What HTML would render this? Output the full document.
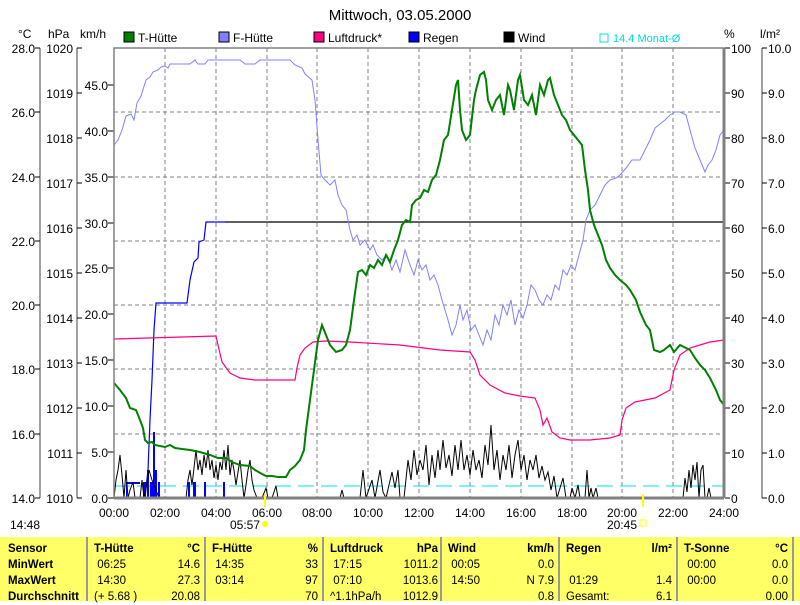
<!DOCTYPE html>
<html><head><meta charset="utf-8"><style>
body{margin:0;background:#fff;width:800px;height:601px;overflow:hidden;font-family:"Liberation Sans",sans-serif}
svg{display:block}
text{font-family:"Liberation Sans",sans-serif;font-size:12px;fill:#000}
.tb{position:absolute;left:0;top:537px;width:800px;height:64px;background:#ffff66;font-size:11.5px}
.c{position:absolute;top:0;height:64px;border-left:2px solid #999}
.r{position:absolute;white-space:nowrap}
b{font-weight:bold}
</style></head><body>
<svg width="800" height="537" viewBox="0 0 800 537">
<text x="400" y="20" text-anchor="middle" style="font-size:15px">Mittwoch, 03.05.2000</text>
<text x="18" y="38">°C</text><text x="48" y="38">hPa</text><text x="80" y="38">km/h</text>
<text x="724" y="38">%</text><text x="760" y="38">l/m²</text>
<rect x="124" y="32" width="10" height="10" fill="#008000" stroke="#000"/><text x="138" y="42">T-Hütte</text>
<rect x="219" y="32" width="10" height="10" fill="#8080ff" stroke="#000"/><text x="233" y="42">F-Hütte</text>
<rect x="314" y="32" width="10" height="10" fill="#ff0080" stroke="#000"/><text x="328" y="42">Luftdruck*</text>
<rect x="409" y="32" width="10" height="10" fill="#0000ff" stroke="#000"/><text x="423" y="42">Regen</text>
<rect x="504" y="32" width="10" height="10" fill="#000" stroke="#000"/><text x="518" y="42">Wind</text>
<rect x="600" y="34" width="8" height="8" fill="none" stroke="#00e0e0"/><text x="613" y="42" style="fill:#00d8d8;font-size:11px">14.4 Monat-Ø</text>
<!-- left axes -->
<g stroke="#808080" stroke-width="1.5" fill="none">
<line x1="40" y1="48" x2="40" y2="498"/><line x1="77" y1="48" x2="77" y2="498"/>
<line x1="762" y1="48" x2="762" y2="498"/>
</g>
<g stroke="#000" stroke-width="1">
<path d="M35 48h5M35 112h5M35 177h5M35 241h5M35 305h5M35 369h5M35 434h5M35 498h5"/>
<path d="M77 48h5M77 93h5M77 138h5M77 183h5M77 228h5M77 273h5M77 318h5M77 363h5M77 408h5M77 453h5M77 498h5"/>
<path d="M108 85h6M108 131h6M108 177h6M108 223h6M108 268h6M108 314h6M108 360h6M108 406h6M108 452h6M108 498h6"/>
<path d="M725 48h5M725 93h5M725 138h5M725 183h5M725 228h5M725 273h5M725 318h5M725 363h5M725 408h5M725 453h5M725 498h5"/>
<path d="M762 48h5M762 93h5M762 138h5M762 183h5M762 228h5M762 273h5M762 318h5M762 363h5M762 408h5M762 453h5M762 498h5"/>
</g>
<g text-anchor="end">
<text x="35" y="53">28.0</text><text x="35" y="117">26.0</text><text x="35" y="182">24.0</text><text x="35" y="246">22.0</text><text x="35" y="310">20.0</text><text x="35" y="374">18.0</text><text x="35" y="439">16.0</text><text x="35" y="503">14.0</text>
<text x="73" y="53">1020</text><text x="73" y="98">1019</text><text x="73" y="143">1018</text><text x="73" y="188">1017</text><text x="73" y="233">1016</text><text x="73" y="278">1015</text><text x="73" y="323">1014</text><text x="73" y="368">1013</text><text x="73" y="413">1012</text><text x="73" y="458">1011</text><text x="73" y="503">1010</text>
<text x="108" y="90">45.0</text><text x="108" y="136">40.0</text><text x="108" y="182">35.0</text><text x="108" y="228">30.0</text><text x="108" y="273">25.0</text><text x="108" y="319">20.0</text><text x="108" y="365">15.0</text><text x="108" y="411">10.0</text><text x="108" y="457">5.0</text><text x="108" y="503">0.0</text>
</g>
<g>
<text x="731" y="53">100</text><text x="731" y="98">90</text><text x="731" y="143">80</text><text x="731" y="188">70</text><text x="731" y="233">60</text><text x="731" y="278">50</text><text x="731" y="323">40</text><text x="731" y="368">30</text><text x="731" y="413">20</text><text x="731" y="458">10</text><text x="731" y="503">0</text>
<text x="768" y="53">10.0</text><text x="768" y="98">9.0</text><text x="768" y="143">8.0</text><text x="768" y="188">7.0</text><text x="768" y="233">6.0</text><text x="768" y="278">5.0</text><text x="768" y="323">4.0</text><text x="768" y="368">3.0</text><text x="768" y="413">2.0</text><text x="768" y="458">1.0</text><text x="768" y="503">0.0</text>
</g>
<!-- grid -->
<g stroke="#808080" stroke-dasharray="4,3" stroke-width="1">
<path d="M114 112H724M114 177H724M114 241H724M114 305H724M114 369H724M114 434H724"/>
<path d="M165 48V498M216 48V498M267 48V498M317 48V498M368 48V498M419 48V498M470 48V498M521 48V498M572 48V498M622 48V498M673 48V498"/>
</g>
<line x1="114" y1="486" x2="724" y2="486" stroke="#00e0e0" stroke-dasharray="16,7"/>
<!-- rain bars -->
<g fill="#0000ff">
<rect x="126" y="482" width="14" height="2"/><rect x="126" y="482" width="1" height="16"/>
<rect x="143" y="482" width="3" height="16"/><rect x="147" y="470" width="2" height="28"/><rect x="150" y="482" width="3" height="16"/><rect x="153" y="432" width="2" height="66"/><rect x="155" y="470" width="2" height="28"/><rect x="158" y="482" width="2" height="16"/>
<rect x="188" y="482" width="2" height="16"/><rect x="193" y="482" width="3" height="16"/><rect x="204" y="482" width="2" height="16"/><rect x="223" y="482" width="2" height="16"/>
</g>
<!-- rain cumulative -->
<polyline fill="none" stroke="#0000ff" stroke-width="1.2" points="114,498 145,498 148,470 150,420 152,380 154,330 156,303 187,303 190,280 194,262 198,258 199,242 204,240 206,222 225,222"/>
<line x1="225" y1="222" x2="724" y2="222" stroke="#000" stroke-width="1.2"/>
<!-- wind -->
<polyline fill="none" stroke="#000" stroke-width="1" points="114,498 116,480 118,470 120,455 122,475 124,498 126,470 128,498 130,490 133,482 135,498 140,498 142,480 144,498 146,488 149,470 152,480 156,490 159,498 186,498 188,480 190,470 192,485 194,468 196,450 198,470 200,460 202,475 204,455 206,468 208,450 210,470 212,460 214,478 216,465 218,480 220,462 222,470 224,450 226,470 228,445 230,475 232,460 234,470 236,485 238,472 240,460 242,480 244,498 246,485 248,470 250,460 252,480 254,490 257,498 262,498 266,488 268,498 272,498 276,486 278,498 340,498 342,490 344,498 360,498 363,470 366,498 372,480 375,498 380,470 383,492 386,498 392,472 395,488 398,470 400,498 404,498 408,460 411,480 414,450 417,475 420,460 423,470 426,445 429,485 432,455 435,478 438,450 440,470 443,440 446,468 449,455 452,476 455,445 458,470 461,440 464,470 467,455 470,475 473,450 476,470 479,460 482,478 485,445 488,465 491,425 494,470 497,450 500,480 503,455 506,470 509,445 512,478 515,455 518,440 521,470 524,455 527,480 530,460 533,470 536,455 539,478 542,466 545,480 548,472 551,490 554,476 557,498 560,488 563,478 566,498 570,498 572,488 575,498 578,485 580,498 585,498 587,470 589,498 591,488 593,498 596,488 598,498 683,498 685,478 687,492 689,470 691,488 693,465 695,480 697,462 699,498 701,470 703,465 705,498 707,498 709,488 711,498"/>
<!-- Luftdruck -->
<polyline fill="none" stroke="#ff0080" stroke-width="1.2" points="114,339 216,336 218,345 222,362 230,373 240,378 255,380 295,380 297,368 300,355 305,348 313,342 325,341 350,342 400,345 440,350 470,352 475,360 480,375 490,385 505,393 520,396 535,398 540,410 543,425 547,418 552,432 560,438 570,440 590,440 610,438 620,435 622,420 626,408 635,402 645,400 655,398 670,390 674,370 680,355 690,348 700,345 710,342 724,340"/>
<!-- F-Huette -->
<polyline fill="none" stroke="#8080ff" stroke-width="1" points="114,145 118,140 122,130 126,116 131,114 134,120 137,103 141,96 146,80 150,77 153,72 158,70 161,67 165,66 168,68 170,64 180,64 190,64 195,60 198,64 205,64 208,60 230,60 240,60 245,64 255,64 260,60 290,60 295,65 302,68 305,74 312,80 315,100 318,140 321,175 325,180 330,185 335,180 338,195 342,205 346,210 350,230 353,240 357,235 360,245 365,240 370,250 373,245 377,255 382,260 387,255 392,270 396,260 400,272 405,250 410,265 414,275 418,260 422,270 426,265 430,280 434,275 438,285 442,300 445,310 448,320 452,335 456,325 460,305 463,320 467,310 471,330 475,325 479,335 483,345 487,330 491,340 495,315 499,325 503,305 507,315 511,300 515,325 519,310 523,318 527,305 531,285 535,290 539,300 543,305 547,295 551,300 555,285 559,290 563,270 567,275 571,265 575,270 579,255 583,240 586,220 590,210 595,205 600,195 605,185 610,180 616,178 620,175 626,168 632,160 640,160 645,150 650,140 655,128 660,124 665,120 670,115 675,112 680,112 686,115 690,130 695,148 700,160 705,172 708,165 712,160 716,150 720,135 724,130"/>
<!-- T-Huette -->
<polyline fill="none" stroke="#008000" stroke-width="2" points="114,383 120,390 126,398 130,408 136,410 140,420 143,428 145,440 148,443 152,442 155,445 160,446 165,447 170,445 175,448 182,449 190,450 200,452 210,455 218,458 226,458 232,462 240,465 250,466 255,470 262,474 266,476 272,476 278,477 286,477 290,470 295,466 300,460 304,450 306,430 310,400 314,370 318,340 322,325 326,335 330,345 336,352 342,350 346,345 350,330 354,300 358,272 362,270 366,275 370,265 374,268 378,260 382,265 386,255 390,262 394,250 398,240 402,225 406,220 410,222 412,205 416,200 420,198 424,190 428,192 432,180 436,175 440,160 444,140 448,135 452,110 456,85 458,80 460,110 462,130 466,140 470,135 474,100 476,90 480,75 484,72 486,80 488,100 492,110 496,100 500,95 504,115 508,85 510,90 514,110 518,80 520,75 524,100 528,105 532,95 536,115 540,85 544,95 548,80 550,78 554,95 558,105 562,115 566,120 570,130 574,135 578,140 582,145 585,170 588,190 590,210 594,225 598,235 602,245 606,260 610,268 615,275 620,280 626,285 630,290 636,300 640,312 646,325 650,330 654,350 660,352 664,350 670,345 674,352 680,345 686,348 690,350 695,358 700,365 705,370 710,378 716,390 720,400 724,405"/>
<!-- frame -->
<path d="M114 498V48H724V498" fill="none" stroke="#808080" stroke-width="1.5"/>
<path d="M114 498H724" stroke="#808080" stroke-width="3"/>
<path d="M724 48V498" stroke="#808080" stroke-width="3"/>
<!-- x labels -->
<g text-anchor="middle">
<text x="114" y="517">00:00</text><text x="165" y="517">02:00</text><text x="216" y="517">04:00</text><text x="267" y="517">06:00</text><text x="317" y="517">08:00</text><text x="368" y="517">10:00</text><text x="419" y="517">12:00</text><text x="470" y="517">14:00</text><text x="521" y="517">16:00</text><text x="572" y="517">18:00</text><text x="622" y="517">20:00</text><text x="673" y="517">22:00</text><text x="724" y="517">24:00</text>
</g>
<line x1="265" y1="494" x2="265" y2="507" stroke="#ffff00" stroke-width="2"/>
<line x1="643" y1="494" x2="643" y2="507" stroke="#ffff00" stroke-width="2"/>
<text x="230" y="529">05:57</text><circle cx="265" cy="524" r="3" fill="#ffff00"/>
<text x="607" y="529">20:45</text><rect x="640" y="520" width="6" height="6" fill="none" stroke="#ffff00"/>
<text x="10" y="529">14:48</text>
</svg>
<div class="tb">
<div class="c" style="left:86px"></div><div class="c" style="left:204px"></div><div class="c" style="left:322px"></div><div class="c" style="left:440px"></div><div class="c" style="left:558px"></div><div class="c" style="left:676px"></div><div class="c" style="left:792px"></div>
<div class="r" style="left:8px;top:4px;line-height:16px"><b>Sensor</b><br><b>MinWert</b><br><b>MaxWert</b><br><b>Durchschnitt</b></div>
<div class="r" style="left:94px;top:4px;line-height:16px"><b>T-Hütte</b><br>&nbsp;06:25<br>&nbsp;14:30<br>(+ 5.68 )</div>
<div class="r" style="left:160px;width:40px;text-align:right;top:4px;line-height:16px"><b>°C</b><br>14.6<br>27.3<br>20.08</div>
<div class="r" style="left:212px;top:4px;line-height:16px"><b>F-Hütte</b><br>&nbsp;14:35<br>&nbsp;03:14</div>
<div class="r" style="left:280px;width:38px;text-align:right;top:4px;line-height:16px"><b>%</b><br>33<br>97<br>70</div>
<div class="r" style="left:330px;top:4px;line-height:16px"><b>Luftdruck</b><br>&nbsp;17:15<br>&nbsp;07:10<br>^1.1hPa/h</div>
<div class="r" style="left:396px;width:42px;text-align:right;top:4px;line-height:16px"><b>hPa</b><br>1011.2<br>1013.6<br>1012.9</div>
<div class="r" style="left:448px;top:4px;line-height:16px"><b>Wind</b><br>&nbsp;00:05<br>&nbsp;14:50</div>
<div class="r" style="left:500px;width:54px;text-align:right;top:4px;line-height:16px"><b>km/h</b><br>0.0<br>N 7.9<br>0.8</div>
<div class="r" style="left:566px;top:4px;line-height:16px"><b>Regen</b><br>&nbsp;<br>&nbsp;01:29<br>Gesamt:</div>
<div class="r" style="left:630px;width:42px;text-align:right;top:4px;line-height:16px"><b>l/m²</b><br>&nbsp;<br>1.4<br>6.1</div>
<div class="r" style="left:684px;top:4px;line-height:16px"><b>T-Sonne</b><br>&nbsp;00:00<br>&nbsp;00:00</div>
<div class="r" style="left:740px;width:48px;text-align:right;top:4px;line-height:16px"><b>°C</b><br>0.0<br>0.0<br>0.00</div>
</div>
</body></html>
